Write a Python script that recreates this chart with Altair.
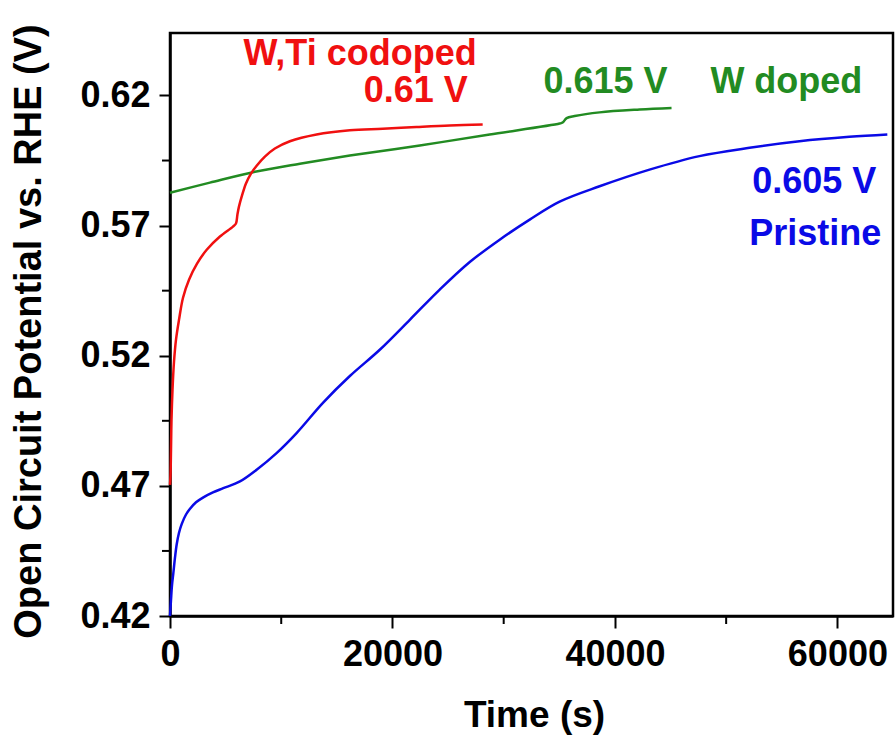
import altair as alt
import pandas as pd

# Open circuit potential transients (time in s, potential in V vs. RHE)
pristine_t = [0, 90, 180, 300, 450, 600, 800, 1050, 1440, 1800, 2340, 3000, 3860, 4790,
              6290, 7790, 9580, 11380, 13770, 16170, 18860, 21560, 24250, 26950, 29640,
              32340, 35030, 38620, 43110, 47600, 52100, 56590, 61080, 64490]
pristine_v = [0.420, 0.4262, 0.4319, 0.4365, 0.4425, 0.4475, 0.4518, 0.4553, 0.4590, 0.4612,
              0.4637, 0.4656, 0.4675, 0.4691, 0.4717, 0.4762, 0.4826, 0.4903, 0.5020, 0.5122,
              0.5223, 0.5338, 0.5454, 0.5560, 0.5646, 0.5723, 0.5792, 0.5851, 0.5915, 0.5967,
              0.5999, 0.6024, 0.6041, 0.6050]

codoped_t = [0, 45, 90, 135, 225, 360, 540, 810, 1170, 1710, 2430, 3320, 4490, 5660, 5930,
             6060, 6200, 6470, 6830, 7280, 7810, 8530, 9430, 10780, 13180, 16170, 19130,
             22160, 25150, 28110]
codoped_v = [0.4704, 0.4740, 0.4838, 0.4954, 0.5069, 0.5177, 0.5262, 0.5338, 0.5423, 0.5492,
             0.5554, 0.5608, 0.5658, 0.5696, 0.5708, 0.5742, 0.5773, 0.5815, 0.5862, 0.5900,
             0.5931, 0.5965, 0.5996, 0.6024, 0.6050, 0.6066, 0.6072, 0.6079, 0.6085, 0.6088]

wdoped_t = [0, 3590, 7640, 11680, 16170, 22460, 28740, 35030, 35300, 35660, 36380,
            38620, 42220, 45090]
wdoped_v = [0.5826, 0.5865, 0.5907, 0.5938, 0.5969, 0.6008, 0.6050, 0.6092, 0.6096,
            0.6113, 0.6121, 0.6135, 0.6146, 0.6152]

series_names = ["Pristine", "W doped", "W,Ti codoped"]
series_colors = ["#0a0ae6", "#228b22", "#f01010"]

# Annotation labels (anchored at their right end)
label_text = ["W,Ti codoped", "0.61 V", "0.615 V", "W doped", "0.605 V", "Pristine"]
label_t = [27575, 26766, 44730, 62245, 63503, 63952]
label_v = [0.6316, 0.6174, 0.6208, 0.6208, 0.5827, 0.5627]
label_series = ["W,Ti codoped", "W,Ti codoped", "W doped", "W doped", "Pristine", "Pristine"]

x_major = [0, 20000, 40000, 60000]
x_minor = [10000, 30000, 50000]
y_major = [0.42, 0.47, 0.52, 0.57, 0.62]
y_minor = [0.445, 0.495, 0.545, 0.595]

rows = []
for name, ts, vs in [("Pristine", pristine_t, pristine_v),
                     ("W doped", wdoped_t, wdoped_v),
                     ("W,Ti codoped", codoped_t, codoped_v)]:
    for t, v in zip(ts, vs):
        rows.append({"series": name, "t": t, "v": v})
curves = pd.DataFrame(rows)
labels = pd.DataFrame({"text": label_text, "t": label_t, "v": label_v, "series": label_series})
xminor_df = pd.DataFrame({"t": x_minor})
yminor_df = pd.DataFrame({"v": y_minor})

FONT = "Liberation Sans"
x_scale = alt.Scale(domain=[0, 65000], nice=False, zero=False)
y_scale = alt.Scale(domain=[0.42, 0.644], nice=False, zero=False)
color_scale = alt.Scale(domain=series_names, range=series_colors)

x_axis = alt.Axis(values=x_major, format="d", title="Time (s)", grid=False,
                  tickSize=12, tickWidth=2, labelPadding=37, labelBaseline="alphabetic",
                  labelFont=FONT, labelFontSize=36, labelFontWeight="bold", labelColor="black",
                  titleFont=FONT, titleFontSize=37, titleFontWeight="bold", titleColor="black",
                  titleX=364, titleY=110, titleBaseline="alphabetic",
                  domainColor="black", domainWidth=2.5, tickColor="black", labelFlush=False)
y_axis = alt.Axis(values=y_major, format=".2f", title="Open Circuit Potential vs. RHE (V)",
                  grid=False, tickSize=11, tickWidth=2, labelPadding=9,
                  labelFont=FONT, labelFontSize=36, labelFontWeight="bold", labelColor="black",
                  titleFont=FONT, titleFontSize=38, titleFontWeight="bold", titleColor="black",
                  titleX=-122, titleY=298, titleAngle=270, titleBaseline="bottom",
                  domainColor="black", domainWidth=2.5, tickColor="black", labelFlush=False)

lines = alt.Chart(curves).mark_line(strokeWidth=2.5, interpolate="catmull-rom").encode(
    x=alt.X("t:Q", scale=x_scale, axis=x_axis),
    y=alt.Y("v:Q", scale=y_scale, axis=y_axis),
    color=alt.Color("series:N", scale=color_scale, legend=None),
    detail="series:N",
)

text = alt.Chart(labels).mark_text(align="right", baseline="alphabetic", font=FONT,
                                   fontSize=36, fontWeight="bold").encode(
    x=alt.X("t:Q", scale=x_scale),
    y=alt.Y("v:Q", scale=y_scale),
    text="text:N",
    color=alt.Color("series:N", scale=color_scale, legend=None),
)

x_minor_ticks = alt.Chart(xminor_df).mark_rule(color="black", strokeWidth=2).encode(
    x=alt.X("t:Q", scale=x_scale),
    y=alt.value(583),
    y2=alt.value(591),
)
y_minor_ticks = alt.Chart(yminor_df).mark_rule(color="black", strokeWidth=2).encode(
    y=alt.Y("v:Q", scale=y_scale),
    x=alt.value(0),
    x2=alt.value(-8),
)

chart = alt.layer(lines, text, x_minor_ticks, y_minor_ticks).properties(
    width=723, height=583,
    autosize=alt.AutoSizeParams(type="none"),
    padding={"left": 170, "top": 33, "right": 3, "bottom": 124},
    background="white",
).configure_view(stroke="black", strokeWidth=2.5)

chart.save("out.html", embed_options={"renderer": "svg", "actions": False})
